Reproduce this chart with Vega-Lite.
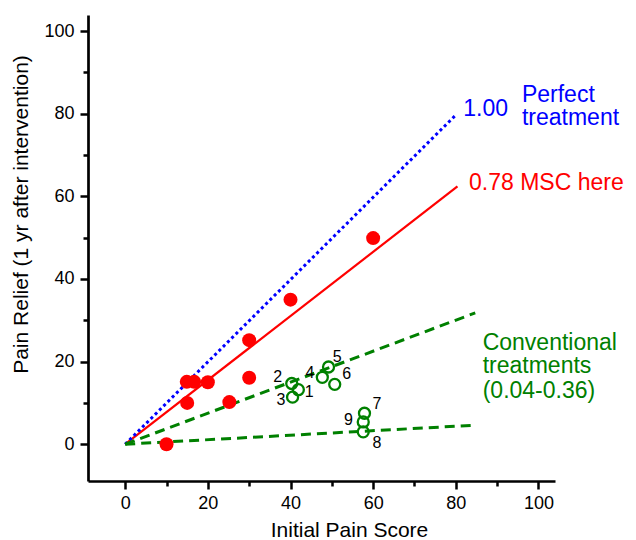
{
  "$schema": "https://vega.github.io/schema/vega-lite/v6.json",
  "width": 467,
  "height": 466,
  "autosize": "none",
  "padding": {"left": 88, "top": 15, "right": 81, "bottom": 59},
  "background": "white",
  "config": {
    "view": {"stroke": null},
    "axis": {
      "domainColor": "black",
      "domainWidth": 2.7,
      "tickColor": "black",
      "tickWidth": 2.5,
      "labelFont": "Liberation Sans",
      "labelFontSize": 18,
      "labelColor": "black",
      "labelOverlap": false,
      "labelFlush": false,
      "labelBound": false,
      "titleFont": "Liberation Sans",
      "titleFontSize": 21,
      "titleFontWeight": "normal",
      "titleColor": "black",
      "grid": false
    }
  },
  "datasets": {
    "lines": [
      {"s": "perfect", "x": 0, "y": 0},
      {"s": "perfect", "x": 79.8, "y": 79.5},
      {"s": "msc", "x": 0, "y": 0},
      {"s": "msc", "x": 80.4, "y": 62.4},
      {"s": "convHigh", "x": 0, "y": 0},
      {"s": "convHigh", "x": 84.7, "y": 31.8},
      {"s": "convLow", "x": 0, "y": 0},
      {"s": "convLow", "x": 84.3, "y": 4.6}
    ],
    "msc": [
      {"x": 10, "y": 0},
      {"x": 15, "y": 10},
      {"x": 14.9, "y": 15.1},
      {"x": 16.7, "y": 15.1},
      {"x": 20, "y": 15},
      {"x": 25.2, "y": 10.2},
      {"x": 30, "y": 16.1},
      {"x": 30, "y": 25.2},
      {"x": 40, "y": 35},
      {"x": 60, "y": 49.9}
    ],
    "conv": [
      {"n": "1", "x": 41.9, "y": 13.2, "lx": 44.5, "ly": 12.7},
      {"n": "2", "x": 40.3, "y": 14.7, "lx": 36.9, "ly": 16.3},
      {"n": "3", "x": 40.5, "y": 11.4, "lx": 37.7, "ly": 10.6},
      {"n": "4", "x": 47.7, "y": 16.2, "lx": 44.7, "ly": 17.3},
      {"n": "5", "x": 49.2, "y": 18.7, "lx": 51.3, "ly": 21.1},
      {"n": "6", "x": 50.7, "y": 14.5, "lx": 53.6, "ly": 16.9},
      {"n": "7", "x": 57.9, "y": 7.5, "lx": 60.9, "ly": 9.8},
      {"n": "8", "x": 57.6, "y": 3.0, "lx": 60.9, "ly": 0.2},
      {"n": "9", "x": 57.6, "y": 5.4, "lx": 54.0, "ly": 5.8}
    ],
    "ann": [
      {"t": "1.00", "g": "blue", "x": 81.8, "y": 79.4},
      {"t": "Perfect", "g": "blue", "x": 96.0, "y": 82.9},
      {"t": "treatment", "g": "blue", "x": 96.0, "y": 77.2},
      {"t": "0.78 MSC here", "g": "red", "x": 83.2, "y": 61.6},
      {"t": "Conventional", "g": "green", "x": 86.5, "y": 22.9},
      {"t": "treatments", "g": "green", "x": 86.5, "y": 17.2},
      {"t": "(0.04-0.36)", "g": "green", "x": 86.5, "y": 11.3}
    ]
  },
  "encoding": {
    "x": {
      "field": "x",
      "type": "quantitative",
      "scale": {"domain": [-9, 104], "nice": false, "zero": false},
      "axis": {
        "title": "Initial Pain Score",
        "values": [0, 10, 20, 30, 40, 50, 60, 70, 80, 90, 100],
        "labelExpr": "datum.value % 20 === 0 ? datum.label : ''",
        "tickSize": {"condition": {"test": "datum.value % 20 === 0", "value": 8}, "value": 5},
        "labelPadding": 5,
        "titleX": 261,
        "titleY": 55.7,
        "titleBaseline": "alphabetic",
        "titleAlign": "center"
      }
    },
    "y": {
      "field": "y",
      "type": "quantitative",
      "scale": {"domain": [-8.9, 103.9], "nice": false, "zero": false},
      "axis": {
        "title": "Pain Relief (1 yr after intervention)",
        "values": [0, 10, 20, 30, 40, 50, 60, 70, 80, 90, 100],
        "labelExpr": "datum.value % 20 === 0 ? datum.label : ''",
        "tickSize": {"condition": {"test": "datum.value % 20 === 0", "value": 8}, "value": 5},
        "labelPadding": 6,
        "titleX": -60.7,
        "titleY": 199,
        "titleAngle": -90,
        "titleBaseline": "alphabetic",
        "titleAlign": "center"
      }
    }
  },
  "layer": [
    {
      "data": {"name": "lines"},
      "transform": [{"filter": "datum.s === 'msc'"}],
      "mark": {"type": "line", "color": "#ff0000", "strokeWidth": 2.2},
      "encoding": {}
    },
    {
      "data": {"name": "lines"},
      "transform": [{"filter": "datum.s === 'perfect'"}],
      "mark": {"type": "line", "color": "#0000ff", "strokeWidth": 3, "strokeDash": [3, 3]},
      "encoding": {}
    },
    {
      "data": {"name": "lines"},
      "transform": [{"filter": "datum.s === 'convHigh' || datum.s === 'convLow'"}],
      "mark": {"type": "line", "color": "#008000", "strokeWidth": 3, "strokeDash": [10, 6]},
      "encoding": {"detail": {"field": "s"}}
    },
    {
      "data": {"name": "msc"},
      "mark": {"type": "point", "shape": "circle", "filled": true, "color": "#ff0000", "opacity": 1, "size": 196}
    },
    {
      "data": {"name": "conv"},
      "mark": {"type": "point", "shape": "circle", "filled": false, "color": "#008000", "opacity": 1, "strokeWidth": 2.3, "size": 121}
    },
    {
      "data": {"name": "conv"},
      "mark": {"type": "text", "font": "Liberation Sans", "fontSize": 16, "color": "black", "align": "center", "baseline": "middle"},
      "encoding": {
        "x": {"field": "lx", "type": "quantitative"},
        "y": {"field": "ly", "type": "quantitative"},
        "text": {"field": "n"}
      }
    },
    {
      "data": {"name": "ann"},
      "mark": {"type": "text", "font": "Liberation Sans", "fontSize": 23, "align": "left", "baseline": "alphabetic"},
      "encoding": {
        "text": {"field": "t"},
        "color": {
          "field": "g",
          "type": "nominal",
          "scale": {"domain": ["blue", "red", "green"], "range": ["#0000ff", "#ff0000", "#008000"]},
          "legend": null
        }
      }
    }
  ]
}
